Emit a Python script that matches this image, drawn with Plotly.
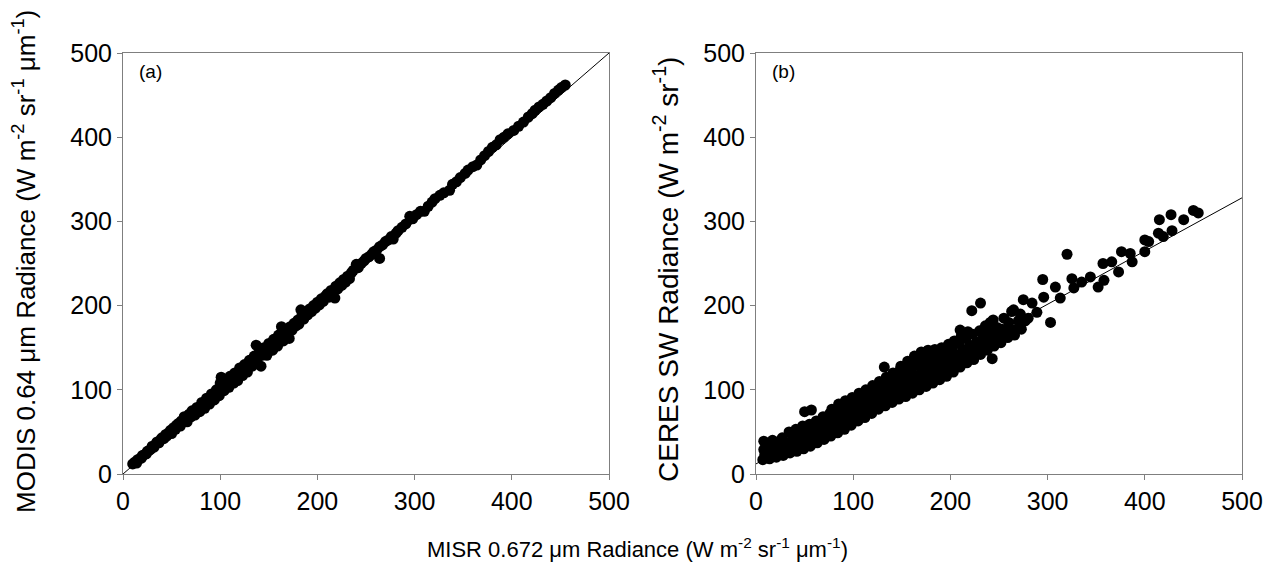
"""
MISR vs MODIS (a) and MISR vs CERES (b) radiance scatter, two panels.
"""

import plotly.graph_objects as go

# Panel (a): MISR 0.672 um vs MODIS 0.64 um radiance
misr_a = [
    10, 12, 14, 15, 17, 19, 20, 22, 24, 25, 27, 29, 30, 32, 34, 35, 37, 39, 40, 42,
    44, 45, 47, 49, 50, 52, 54, 55, 57, 59, 60, 62, 63, 65, 66, 68, 70, 71, 73, 74,
    76, 78, 79, 81, 83, 84, 86, 88, 89, 91, 92, 94, 96, 97, 99, 100, 101, 103, 104, 106,
    107, 109, 110, 112, 114, 115, 117, 118, 120, 121, 123, 125, 126, 128, 130, 131, 133, 135, 137, 138,
    140, 142, 143, 145, 147, 148, 150, 152, 154, 155, 157, 159, 160, 162, 163, 165, 167, 169, 171, 172,
    174, 176, 178, 180, 181, 183, 184, 186, 188, 190, 192, 194, 196, 198, 200, 202, 204, 206, 208, 210,
    212, 214, 216, 218, 219, 221, 223, 225, 227, 229, 231, 233, 235, 237, 240, 242, 245, 248, 250, 253,
    256, 258, 261, 264, 264, 267, 270, 273, 276, 278, 281, 283, 287, 291, 295, 298, 302, 306, 310, 314,
    318, 321, 326, 330, 336, 339, 343, 347, 352, 355, 360, 364, 368, 372, 376, 380, 384, 388, 392, 396,
    402, 407, 412, 417, 421, 424, 428, 432, 436, 440, 444, 448, 451, 455,
]
modis_a = [
    12, 14, 13, 17, 18, 19, 22, 23, 24, 27, 28, 30, 33, 32, 36, 38, 37, 41, 43, 42,
    47, 45, 49, 52, 48, 55, 53, 58, 60, 57, 63, 62, 68, 66, 62, 71, 68, 75, 72, 70,
    79, 77, 74, 85, 82, 78, 90, 87, 83, 95, 90, 88, 100, 96, 93, 108, 115, 104, 99, 111,
    106, 103, 116, 112, 108, 120, 116, 111, 126, 122, 117, 130, 127, 121, 135, 131, 128, 140, 153, 136,
    144, 128, 141, 150, 146, 141, 155, 152, 147, 160, 157, 152, 165, 162, 175, 158, 170, 166, 161, 175,
    171, 179, 176, 183, 178, 195, 188, 184, 192, 189, 196, 193, 200, 197, 204, 201, 208, 205, 211, 214,
    210, 218, 215, 209, 223, 220, 227, 224, 231, 228, 235, 232, 239, 242, 249, 245, 250, 253, 256, 258,
    261, 264, 266, 256, 270, 272, 276, 278, 282, 279, 286, 289, 293, 297, 306, 303, 308, 312, 312, 318,
    323, 327, 331, 334, 337, 344, 347, 352, 357, 361, 365, 367, 373, 378, 383, 388, 391, 397, 400, 404,
    408, 413, 418, 424, 428, 432, 436, 439, 443, 447, 452, 456, 459, 462,
]

# Panel (b): MISR 0.672 um vs CERES SW radiance
misr_b = [
    7, 9, 8, 10, 8,
    14, 16, 15, 13, 17,
    21, 23, 22, 20, 24,
    28, 30, 29, 27, 31,
    35, 37, 36, 38, 34,
    42, 44, 43, 45, 41,
    49, 51, 50, 52, 48, 50, 57,
    56, 58, 57, 59, 55,
    63, 65, 64, 66, 62,
    70, 72, 71, 73, 69,
    77, 79, 78, 80, 76, 78,
    84, 86, 85, 87, 83, 85,
    91, 93, 92, 94, 90, 92,
    98, 100, 99, 101, 97, 99,
    105, 107, 106, 108, 104, 106,
    112, 114, 113, 115, 111, 113,
    119, 121, 120, 122, 118, 120,
    126, 128, 127, 129, 125, 127, 132,
    133, 135, 134, 136, 132, 134,
    140, 142, 141, 143, 139, 141,
    147, 149, 148, 150, 146, 148, 149,
    154, 156, 155, 157, 153, 155, 156,
    161, 163, 162, 164, 160, 162, 163,
    168, 170, 169, 171, 167, 169, 170,
    175, 177, 176, 178, 174, 176, 177,
    182, 184, 183, 185, 181, 183, 184,
    189, 191, 190, 192, 188, 190, 191,
    196, 198, 197, 199, 195, 197, 198,
    203, 205, 204, 206, 202, 204,
    210, 212, 211, 213, 209, 211, 210,
    217, 219, 218, 220, 216, 218,
    224, 226, 225, 227, 223, 222, 231,
    231, 233, 232, 234, 230, 236,
    238, 240, 239, 241, 237, 241, 243,
    245, 247, 246, 248, 244,
    252, 254, 253, 255,
    259, 261, 260, 263,
    266, 268, 270, 265,
    273, 277, 275, 272,
    280, 284, 289, 295, 296, 303, 308, 313, 320, 325, 327, 335, 344, 352, 358, 357,
    366, 373, 376, 385, 387, 400, 400, 404, 415, 414, 419, 427, 428, 440, 450, 455,
]
ceres_b = [
    17, 23, 29, 35, 39,
    18, 24, 30, 36, 40,
    20, 26, 32, 38, 28,
    22, 29, 36, 43, 33,
    25, 32, 39, 46, 50,
    27, 34, 41, 48, 53,
    30, 37, 44, 51, 57, 74, 76,
    33, 40, 47, 54, 59,
    37, 44, 51, 58, 63,
    41, 48, 55, 62, 68,
    45, 52, 59, 66, 72, 77,
    49, 56, 63, 70, 77, 83,
    53, 60, 67, 74, 80, 87,
    58, 65, 72, 78, 84, 91,
    63, 70, 77, 83, 89, 96,
    67, 74, 81, 87, 94, 100,
    72, 79, 86, 92, 98, 105,
    77, 84, 91, 97, 104, 110, 127,
    81, 88, 95, 102, 108, 115,
    85, 92, 99, 106, 113, 120,
    89, 96, 103, 110, 117, 123, 128,
    92, 99, 106, 113, 120, 127, 134,
    96, 103, 110, 117, 124, 132, 140,
    100, 107, 114, 121, 129, 137, 145,
    104, 111, 118, 125, 132, 140, 147,
    108, 115, 122, 129, 136, 142, 148,
    112, 119, 126, 133, 139, 145, 150,
    116, 123, 130, 137, 143, 149, 154,
    121, 128, 135, 142, 150, 158,
    127, 134, 141, 148, 155, 163, 171,
    132, 139, 146, 153, 161, 169,
    136, 143, 150, 157, 166, 194, 203,
    142, 149, 156, 163, 170, 176,
    147, 154, 161, 168, 174, 180, 137,
    152, 159, 166, 174, 183,
    156, 164, 172, 185,
    162, 170, 180, 193,
    165, 172, 182, 195,
    172, 182, 207, 190,
    185, 203, 192, 231, 210, 180, 222, 209, 261, 232, 221, 228, 234, 222, 230, 250,
    252, 240, 264, 262, 252, 278, 264, 276, 302, 286, 282, 308, 289, 302, 313, 310,
]

# reference lines drawn in each panel (end points in data units)
line_a_x = [0, 500]
line_a_y = [0, 500]
line_b_x = [0, 500]
line_b_y = [12, 328]

FONT = "Arial, Liberation Sans, sans-serif"
AXIS_GREY = "#7f7f7f"
W, H = 1275, 573
OFF = 8  # page body margin, pixel positions below are corrected by it

fig = go.Figure()

fig.add_trace(go.Scatter(x=line_a_x, y=line_a_y, mode="lines",
                         line=dict(color="black", width=1), xaxis="x", yaxis="y"))
fig.add_trace(go.Scatter(x=misr_a, y=modis_a, mode="markers",
                         marker=dict(color="black", size=11), xaxis="x", yaxis="y"))
fig.add_trace(go.Scatter(x=line_b_x, y=line_b_y, mode="lines",
                         line=dict(color="black", width=1), xaxis="x2", yaxis="y2"))
fig.add_trace(go.Scatter(x=misr_b, y=ceres_b, mode="markers",
                         marker=dict(color="black", size=11), xaxis="x2", yaxis="y2"))

axis_style = dict(
    range=[0, 500],
    tickvals=[0, 100, 200, 300, 400, 500],
    ticks="outside",
    ticklen=5,
    tickcolor=AXIS_GREY,
    showline=True,
    linecolor=AXIS_GREY,
    linewidth=1,
    mirror=True,
    showgrid=False,
    zeroline=False,
    automargin=False,
    tickfont=dict(family=FONT, size=25, color="black"),
)


def px_x(p):
    return (p - OFF) / W


def px_y(p):
    return 1 - (p - OFF) / H


# plot areas in page pixels: (a) x 123-609, (b) x 756-1242, both y 53-474
fig.update_layout(
    width=W,
    height=H,
    margin=dict(l=0, r=0, t=0, b=0),
    paper_bgcolor="white",
    plot_bgcolor="white",
    showlegend=False,
    xaxis=dict(domain=[px_x(123), px_x(609)], anchor="y", **axis_style),
    yaxis=dict(domain=[px_y(474), px_y(53)], anchor="x", **axis_style),
    xaxis2=dict(domain=[px_x(756), px_x(1242)], anchor="y2", **axis_style),
    yaxis2=dict(domain=[px_y(474), px_y(53)], anchor="x2", **axis_style),
)

fig.add_annotation(
    text="MODIS 0.64 \u03bcm Radiance (W m<sup>-2</sup> sr<sup>-1</sup> \u03bcm<sup>-1</sup>)",
    xref="paper", yref="paper", x=px_x(24), y=px_y(262),
    textangle=-90, showarrow=False, font=dict(family=FONT, size=26, color="black"),
    xanchor="center", yanchor="middle",
)
fig.add_annotation(
    text="CERES SW Radiance (W m<sup>-2</sup> sr<sup>-1</sup>)",
    xref="paper", yref="paper", x=px_x(666), y=px_y(270),
    textangle=-90, showarrow=False, font=dict(family=FONT, size=28, color="black"),
    xanchor="center", yanchor="middle",
)
fig.add_annotation(
    text="MISR 0.672 \u03bcm Radiance (W m<sup>-2</sup> sr<sup>-1</sup> \u03bcm<sup>-1</sup>)",
    xref="paper", yref="paper", x=px_x(637), y=px_y(548),
    showarrow=False, font=dict(family=FONT, size=22, color="black"),
    xanchor="center", yanchor="middle",
)

# panel letters
fig.add_annotation(text="(a)", xref="x domain", yref="y domain", x=0.028, y=0.955,
                   showarrow=False, font=dict(family=FONT, size=19, color="black"),
                   xanchor="left", yanchor="middle")
fig.add_annotation(text="(b)", xref="x2 domain", yref="y2 domain", x=0.028, y=0.955,
                   showarrow=False, font=dict(family=FONT, size=19, color="black"),
                   xanchor="left", yanchor="middle")

fig.write_html("out.html")
